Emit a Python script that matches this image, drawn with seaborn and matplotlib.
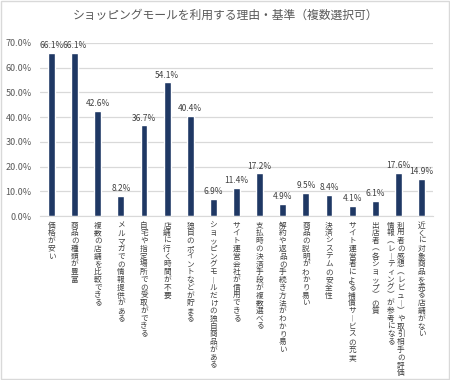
import pandas as pd
import matplotlib
matplotlib.use("Agg")
import matplotlib.pyplot as plt
import matplotlib.transforms as mtransforms
from matplotlib.patches import Rectangle
import seaborn as sns

# data
reasons = [
    "価格が安い",
    "商品の種類が豊富",
    "複数の店舗を比較できる",
    "メルマガでの情報提供がある",
    "自宅や指定場所での受取ができる",
    "店舗に行く時間が不要",
    "独自のポイントなどが貯まる",
    "ショッピングモールだけの独自商品がある",
    "サイト運営会社が信用できる",
    "支払時の決済手段が複数選べる",
    "解約や返品の手続き方法がわかり易い",
    "商品の説明がわかり易い",
    "決済システムの安全性",
    "サイト運営者による補償サービスの充実",
    "出店者（各ショップ）の質",
    "利用者の感想（レビュー）や取引相手の評価|情報（レーティング）が参考になる",
    "近くに対象商品を売る店舗がない",
]
share = [66.1, 66.1, 42.6, 8.2, 36.7, 54.1, 40.4, 6.9, 11.4, 17.2,
         4.9, 9.5, 8.4, 4.1, 6.1, 17.6, 14.9]
yticks = [0, 10, 20, 30, 40, 50, 60, 70]

title = "ショッピングモールを利用する理由・基準（複数選択可）"

sns.set_style("white")
plt.rcParams["font.family"] = ["Noto Sans CJK JP", "DejaVu Sans"]

df = pd.DataFrame({"reason": reasons, "share": share})

fig = plt.figure(figsize=(4.5, 3.8), dpi=100)
ax = fig.add_axes([40 / 450, 1 - 216 / 380, 393 / 450, 173 / 380])

sns.barplot(data=df, x="reason", y="share", color="#1f3864", width=0.3,
            saturation=1, ax=ax)

ax.set_ylim(0, 70)
ax.set_yticks(yticks)
ax.set_yticklabels([f"{t:.1f}%" for t in yticks], fontsize=6.5, color="#595959")
ax.tick_params(axis="y", length=0, pad=6)
ax.grid(axis="y", color="#d9d9d9", linewidth=0.9)
ax.set_axisbelow(True)
for s in ["top", "right", "left"]:
    ax.spines[s].set_visible(False)
ax.spines["bottom"].set_color("#d9d9d9")
ax.set_xlabel("")
ax.set_ylabel("")
ax.set_xticks(range(len(reasons)))
ax.set_xticklabels([])
ax.tick_params(axis="x", length=0)
ax.set_xlim(-0.5, len(reasons) - 0.5)

ax.bar_label(ax.containers[0], labels=[f"{v:.1f}%" for v in share],
             padding=2, fontsize=6, color="#404040")

# vertical (tategaki) category labels, one character at a time
vmap = {"ー": "︱", "（": "︵", "）": "︶"}
pitch = 5.6  # points between characters

trans = mtransforms.blended_transform_factory(ax.transData, ax.transAxes)
for i, lab in enumerate(reasons):
    cols = lab.split("|")
    n = len(cols)
    for j, col in enumerate(cols):
        dx = 0.22 * (n - 1) / 2 - 0.44 * j if n > 1 else 0
        for k, c in enumerate(col):
            t = mtransforms.offset_copy(trans, fig=fig, x=0, y=-4 - k * pitch,
                                        units="points")
            ax.text(i + dx, 0, vmap.get(c, c), transform=t, ha="center",
                    va="top", fontsize=5.5, color="#404040")

fig.text(0.5, 1 - 15 / 380, title, ha="center", va="center",
         fontsize=8.5, color="#595959")
fig.patches.append(Rectangle((0.002, 0.002), 0.996, 0.996, transform=fig.transFigure,
                             fill=False, edgecolor="#d9d9d9", linewidth=1))

fig.savefig("out.png", dpi=100)
